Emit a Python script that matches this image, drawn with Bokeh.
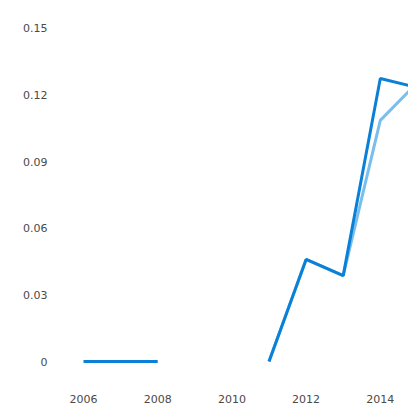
from bokeh.plotting import figure
from bokeh.models import Range1d, FixedTicker
from bokeh.embed import file_html
from bokeh.resources import INLINE

nan = float("nan")
years = [2006, 2007, 2008, 2009, 2010, 2011, 2012, 2013, 2014, 2015]
dark = [0.0, 0.0, 0.0, nan, nan, 0.0, 0.046, 0.0387, 0.1275, 0.1234]
light_years = [2011, 2012, 2013, 2014, 2015]
light = [0.0, 0.046, 0.0387, 0.1086, 0.1257]
x_ticks = [2006, 2008, 2010, 2012, 2014]
y_ticks = [0, 0.03, 0.06, 0.09, 0.12, 0.15]

p = figure(width=408, height=408, output_backend="svg", toolbar_location=None,
           x_range=Range1d(2005.38, 2014.76), y_range=Range1d(-0.0108, 0.1554),
           min_border_left=60, min_border_right=0, min_border_top=16, min_border_bottom=23)
p.outline_line_color = None
p.xgrid.grid_line_color = None
p.ygrid.grid_line_color = None

for ax in (p.xaxis, p.yaxis):
    ax.axis_line_color = None
    ax.major_tick_line_color = None
    ax.minor_tick_line_color = None
    ax.major_tick_out = 0
    ax.major_tick_in = 0
    ax.major_label_text_font = "DejaVu Sans"
    ax.major_label_text_font_size = "11px"
    ax.major_label_text_color = "#4a4a4a"

p.xaxis.ticker = FixedTicker(ticks=x_ticks)
p.yaxis.ticker = FixedTicker(ticks=y_ticks)
p.xaxis.major_label_overrides = {t: str(t) for t in x_ticks}
p.yaxis.major_label_overrides = {0: "0", 0.03: "0.03", 0.06: "0.06", 0.09: "0.09", 0.12: "0.12", 0.15: "0.15"}
p.xaxis.major_label_standoff = 9
p.yaxis.major_label_standoff = 13

p.line(light_years, light, line_color="#6cb8ea", line_width=3, line_alpha=0.9)
p.line(years, dark, line_color="#0a80d6", line_width=3)

open("out.html", "w").write(file_html(p, INLINE))
